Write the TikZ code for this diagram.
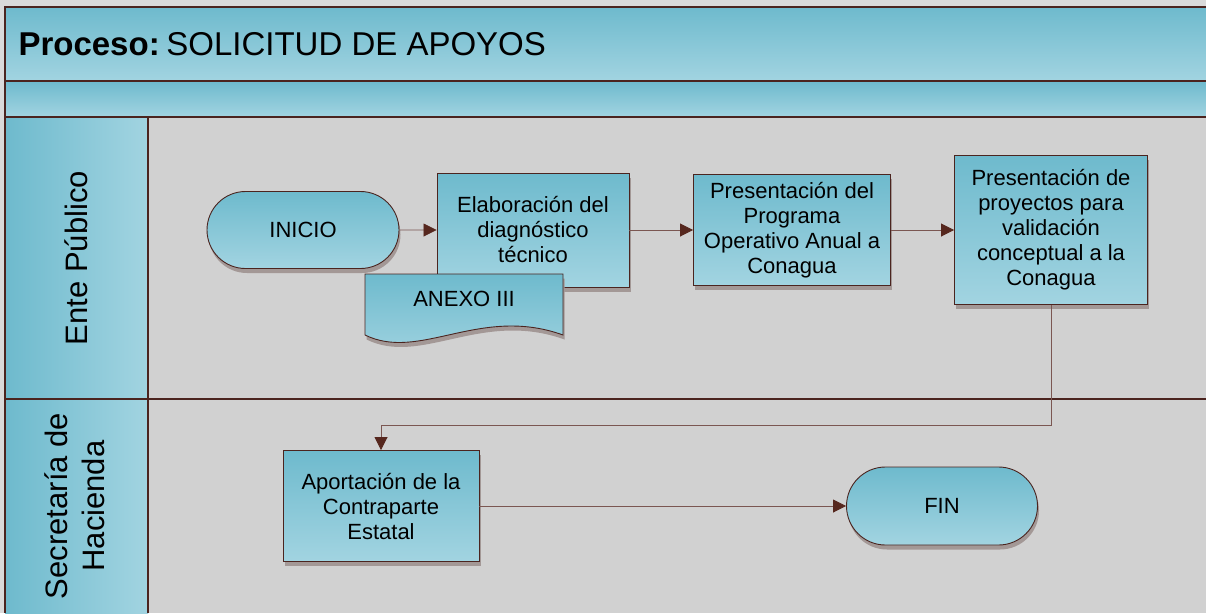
\documentclass[tikz,border=0pt]{standalone}
\usepackage{fontspec}
\setmainfont{Liberation Sans}
\usetikzlibrary{positioning,shapes.misc,shadows,arrows.meta}

\definecolor{azultop}{HTML}{6EBACD}
\definecolor{azulbot}{HTML}{A2D4E1}
\definecolor{fondo}{HTML}{D1D1D1}
\definecolor{margen}{HTML}{DADADA}
\definecolor{marco}{HTML}{4B241F}
\definecolor{linea}{HTML}{7B5752}
\definecolor{punta}{HTML}{56271E}
\definecolor{sombra}{HTML}{A39896}

\tikzset{
  degradado/.style={top color=azultop, bottom color=azulbot},
  caja/.style={draw=marco, line width=0.9pt, degradado,
    drop shadow={shadow xshift=1.5pt, shadow yshift=-4.5pt, fill=sombra, opacity=1},
    align=center, inner sep=0pt, font=\fontsize{22}{25}\selectfont},
  terminal/.style={caja, rounded rectangle},
  flujo/.style={draw=linea, line width=0.8pt, -{Triangle[length=13pt,width=13pt,color=punta]}},
  carril/.style={left color=azultop, right color=azulbot},
  rotulo/.style={rotate=90, align=center, font=\fontsize{31}{37}\selectfont},
}

\begin{document}
\begin{tikzpicture}[x=1pt,y=-1pt]
        \useasboundingbox (0,0) rectangle (1206,613);

        % fondo y carriles
        \fill[margen] (0,0) rectangle (1206,613);
        \shade[degradado] (5,7) rectangle (1206,81);
        \shade[degradado] (5,81) rectangle (1206,117);
        \shade[carril] (5,117) rectangle (148,613);
        \fill[fondo] (148,117) rectangle (1206,613);

        \draw[marco, line width=1.6pt] (1206,7) -- (5,7) -- (5,613);
        \draw[marco, line width=1.6pt] (5,81) -- (1206,81);
        \draw[marco, line width=1.6pt] (5,117) -- (1206,117);
        \draw[marco, line width=1.6pt] (5,399) -- (1206,399);
        \draw[marco, line width=1.6pt] (148,117) -- (148,613);

        \node[anchor=base west, font=\fontsize{33}{38}\selectfont] (titulo) at (15,55)
            {\textbf{Proceso:}\hspace{0.2em}SOLICITUD DE APOYOS};
        \node[rotulo] (ente) at (76,258) {Ente Público};
        \node[rotulo] (hacienda) at (75,506) {Secretaría de\\Hacienda};

        % actividades
        \node[terminal, minimum width=192pt, minimum height=77pt] (inicio) at (303,230) {INICIO};
        \node[caja, minimum width=192pt, minimum height=114pt] (elab) at (533,230)
            {Elaboración del\\diagnóstico\\técnico};
        \node[caja, minimum width=197pt, minimum height=111pt] (prog) at (792,230)
            {Presentación del\\Programa\\Operativo Anual a\\Conagua};
        \node[caja, minimum width=193pt, minimum height=149pt] (proy) at (1051,230)
            {Presentación de\\proyectos para\\validación\\conceptual a la\\Conagua};
        \node[caja, minimum width=196pt, minimum height=111pt] (aport) at (381,506)
            {Aportación de la\\Contraparte\\Estatal};
        \node[terminal, minimum width=191pt, minimum height=78pt] (fin) at (942,506) {FIN};

        \path[draw=marco, line width=0.9pt, degradado,
            drop shadow={shadow xshift=1.5pt, shadow yshift=-4.5pt, fill=sombra, opacity=1}]
            (365,274) -- (563,274) -- (563,335)
            .. controls (480,305) and (420,362) .. (365,335) -- cycle;
        \node[font=\fontsize{22}{25}\selectfont] (anexo) at (464,299) {ANEXO III};

        \draw[flujo] (inicio) -- (elab);
        \draw[flujo] (elab) -- (prog);
        \draw[flujo] (prog) -- (proy);
        \draw[flujo] (proy.south) -- ++(0,120) -| (aport.north);
        \draw[flujo] (aport) -- (fin);
\end{tikzpicture}
\end{document}
